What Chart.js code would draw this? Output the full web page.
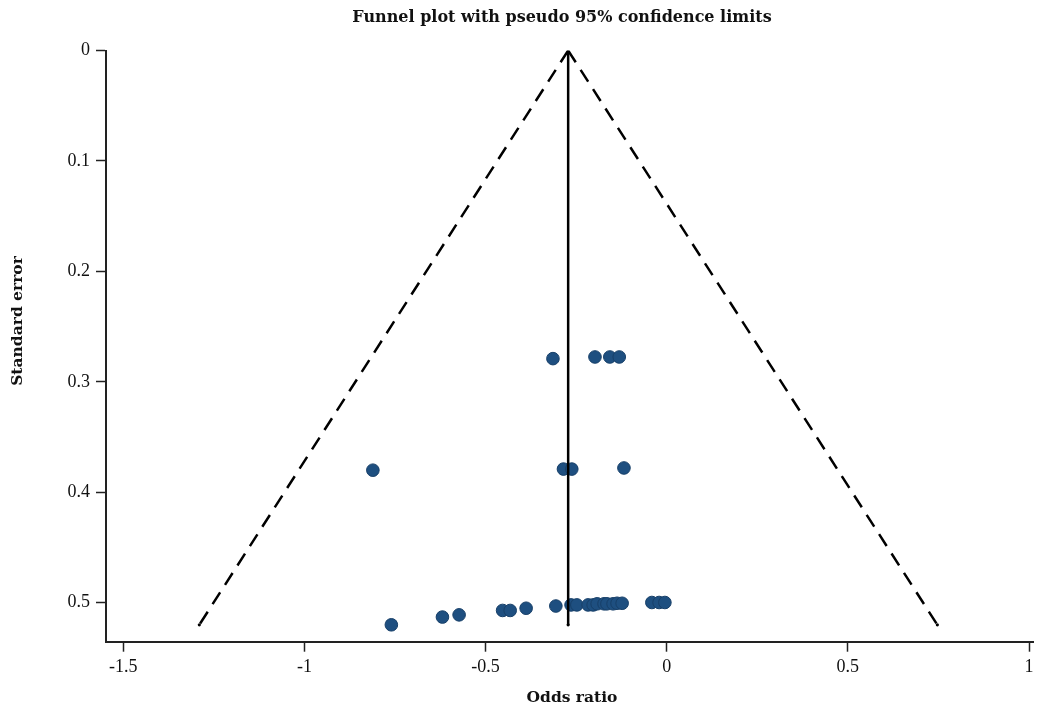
<!DOCTYPE html>
<html>
<head>
<meta charset="utf-8">
<title>Funnel plot</title>
<script src="https://cdn.jsdelivr.net/npm/chart.js@4.4.1/dist/chart.umd.min.js"></script>
<style>
  html, body { margin: 0; padding: 0; background: #fff; }
  #wrap { width: 1037px; height: 710px; position: relative; }
</style>
</head>
<body>
<div id="wrap"><canvas id="funnelChart"></canvas></div>
<script>
// study estimates (x = odds ratio scale, y = standard error)
const studyOR = [
    -0.314, -0.198, -0.157, -0.131,
    -0.811, -0.285, -0.262, -0.118,
    -0.760, -0.619, -0.573, -0.453, -0.432, -0.388, -0.306,
    -0.264, -0.248, -0.217, -0.203, -0.192, -0.173, -0.165, -0.148, -0.137, -0.123,
    -0.041, -0.021, -0.005
];
const studySE = [
    0.279, 0.2775, 0.2775, 0.2775,
    0.380, 0.379, 0.379, 0.378,
    0.520, 0.513, 0.511, 0.507, 0.507, 0.505, 0.503,
    0.502, 0.502, 0.502, 0.502, 0.501, 0.501, 0.501, 0.501, 0.5005, 0.5005,
    0.4998, 0.4998, 0.4998
];

// pooled estimate and pseudo 95% limits
const pooledX = [-0.272, -0.272];
const pooledY = [0, 0.52];
const leftLimitX = [-0.272, -1.29];
const leftLimitY = [0, 0.52];
const rightLimitX = [-0.272, 0.747];
const rightLimitY = [0, 0.52];

const xTicks = [-1.5, -1, -0.5, 0, 0.5, 1];
const yTicks = [0, 0.1, 0.2, 0.3, 0.4, 0.5];

const toPoints = (xs, ys) => xs.map((x, i) => ({ x: x, y: ys[i] }));

const axisColor = '#222';
const tickFont = { family: 'Liberation Serif', size: 18 };

const lineSet = (xs, ys, dash) => ({
    type: 'line',
    data: toPoints(xs, ys),
    showLine: true,
    borderColor: '#000',
    borderWidth: 2.5,
    borderDash: dash,
    pointRadius: [0, 1.6],
    pointBackgroundColor: '#000',
    pointBorderWidth: 0,
    fill: false,
    order: 0
});

const plotText = {
    id: 'plotText',
    afterDraw(chart) {
        const c = chart.ctx;
        c.save();
        c.fillStyle = '#111';
        c.textAlign = 'center';
        c.textBaseline = 'middle';
        c.font = 'bold 16px "DejaVu Serif"';
        c.fillText('Funnel plot with pseudo 95% confidence limits', 562, 18);
        c.font = 'bold 15.5px "DejaVu Serif"';
        c.fillText('Odds ratio', 572, 698);
        c.translate(18, 321);
        c.rotate(-Math.PI / 2);
        c.fillText('Standard error', 0, 0);
        c.restore();
    }
};

new Chart(document.getElementById('funnelChart'), {
    type: 'scatter',
    data: {
        datasets: [
            lineSet(pooledX, pooledY, []),
            lineSet(leftLimitX, leftLimitY, [14, 9]),
            lineSet(rightLimitX, rightLimitY, [14, 9]),
            {
                data: toPoints(studyOR, studySE),
                backgroundColor: '#1e4f80',
                borderColor: '#173f68',
                borderWidth: 1,
                pointRadius: 6.3,
                pointHoverRadius: 6.3,
                order: 1
            }
        ]
    },
    options: {
        responsive: true,
        maintainAspectRatio: false,
        animation: false,
        layout: { autoPadding: false, padding: { top: 50.5, right: 4, left: 0, bottom: 0 } },
        plugins: {
            legend: { display: false },
            tooltip: { enabled: false },
            title: { display: false }
        },
        scales: {
            x: {
                type: 'linear',
                min: -1.5476,
                max: 1.011,
                border: { color: axisColor, width: 2 },
                grid: { drawOnChartArea: false, tickLength: 10, tickColor: axisColor, tickWidth: 1.5 },
                ticks: { font: tickFont, color: '#111', padding: 5, maxRotation: 0, autoSkip: false,
                    callback: v => String(v) },
                afterBuildTicks: s => { s.ticks = xTicks.map(v => ({ value: v })); },
                afterFit: s => { s.height = 68.3; s.paddingLeft = 0; s.paddingRight = 0; }
            },
            y: {
                type: 'linear',
                reverse: true,
                min: 0,
                max: 0.5353,
                border: { color: axisColor, width: 2 },
                grid: { drawOnChartArea: false, tickLength: 10, tickColor: axisColor, tickWidth: 1.5 },
                ticks: { font: tickFont, color: '#111', padding: 6, autoSkip: false,
                    callback: v => String(v) },
                afterBuildTicks: s => { s.ticks = yTicks.map(v => ({ value: v })); },
                afterFit: s => { s.width = 106; }
            }
        }
    },
    plugins: [plotText]
});
</script>
</body>
</html>
